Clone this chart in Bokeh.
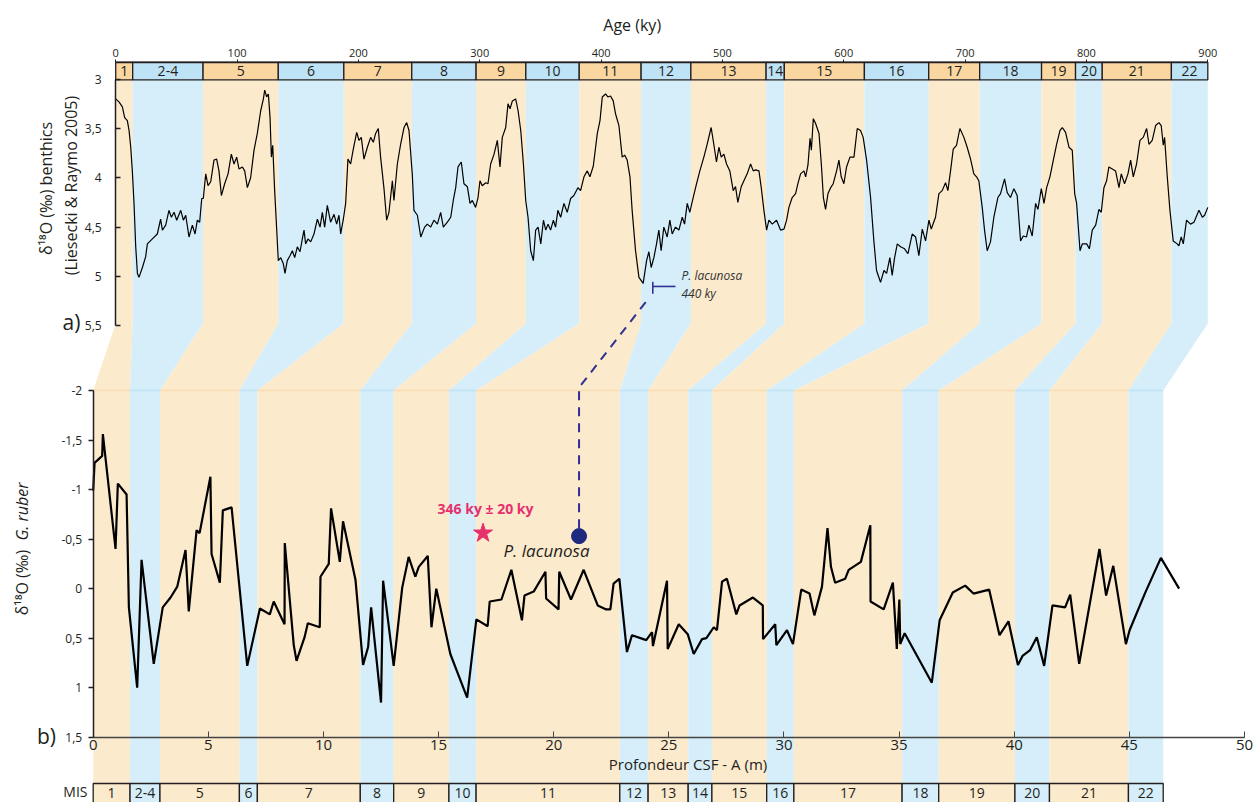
import numpy as np
from bokeh.plotting import figure
from bokeh.models import Range1d, LinearAxis, FixedTicker, CustomJSTickFormatter, Label
from bokeh.core.properties import value
from bokeh.embed import file_html
from bokeh.resources import INLINE

# ---------------- data ----------------
age_ky = [0, 2.7, 5.5, 7.4, 9.6, 11.0, 12.4, 13.7, 15.1, 16.5, 17.9, 19.2, 22.0, 24.7, 26.1, 30.2, 34.3, 37.0,
          38.5, 41.2, 43.9, 45.9, 48.1, 50.3, 53.6, 55.8, 57.7, 60.4, 63.2, 65.4, 67.3, 69.2, 70.9, 72.2, 74.2,
          76.1, 78.3, 81.0, 83.2, 85.1, 87.1, 89.8, 92.6, 95.3, 97.5, 99.7, 101.6, 104.4, 106.3, 108.5, 111.2,
          114.0, 116.7, 119.5, 121.7, 122.8, 124.4, 125.8, 127.2, 128.3, 129.4, 131.0, 132.7, 134.0, 136.0,
          138.1, 139.5, 141.4, 143.6, 145.6, 147.5, 149.7, 151.9, 153.8, 155.2, 156.5, 158.5, 160.7, 163.4,
          166.2, 168.4, 170.3, 172.2, 174.4, 177.1, 179.9, 182.1, 184.0, 185.4, 187.6, 189.5, 191.4, 193.6,
          195.8, 198.6, 200.5, 202.4, 204.6, 207.4, 210.1, 212.3, 214.2, 216.4, 218.3, 221.1, 223.3, 225.2,
          228.0, 229.3, 232.1, 234.8, 237.6, 239.8, 241.7, 244.4, 245.8, 248.6, 251.4, 254.6, 256.8, 259.6,
          262.3, 265.1, 267.8, 270.0, 273.3, 276.1, 278.2, 280.2, 282.1, 284.8, 287.0, 289.8, 292.0, 293.9,
          296.6, 298.6, 300.2, 302.1, 304.9, 306.8, 309.0, 311.8, 314.5, 316.7, 318.6, 321.4, 323.3, 325.0,
          326.9, 329.6, 331.6, 333.8, 336.0, 337.9, 339.8, 342.0, 344.2, 346.1, 348.1, 350.3, 352.5, 354.4,
          356.3, 358.4, 360.7, 362.5, 364.4, 366.7, 369.4, 372.1, 374.9, 377.6, 380.9, 383.1, 385.9, 388.6,
          390.8, 393.6, 396.9, 399.1, 401.0, 403.7, 405.6, 407.8, 410.0, 411.9, 414.7, 417.4, 419.4, 421.5,
          423.8, 425.6, 428.4, 431.2, 434.7, 437.5, 439.4, 441.3, 443.5, 445.7, 447.6, 449.5, 451.7, 454.5,
          456.7, 458.6, 461.3, 464.1, 466.9, 468.8, 471.0, 473.1, 475.9, 478.7, 481.4, 484.7, 487.4, 490.7,
          492.9, 495.1, 497.1, 499.0, 501.2, 503.4, 506.1, 508.9, 510.8, 512.7, 515.5, 517.7, 520.4, 523.2,
          525.4, 527.3, 530.1, 532.0, 534.2, 536.4, 538.3, 541.1, 544.6, 547.9, 550.7, 552.9, 554.8, 557.5,
          560.3, 562.2, 564.4, 567.2, 568.6, 570.5, 572.2, 573.3, 574.9, 576.8, 579.6, 581.5, 583.2, 585.0,
          587.0, 589.2, 591.3, 594.1, 596.0, 597.9, 600.1, 602.3, 605.1, 608.4, 611.1, 613.8, 616.0, 618.8,
          622.1, 624.8, 627.0, 630.3, 633.1, 635.3, 638.0, 639.9, 641.9, 644.1, 646.8, 650.1, 652.9, 656.4,
          659.2, 661.9, 664.7, 667.4, 670.2, 672.1, 675.6, 678.4, 681.1, 683.9, 685.8, 688.0, 690.2, 692.9,
          695.7, 699.0, 701.7, 704.5, 707.2, 709.4, 711.3, 714.1, 716.0, 718.2, 720.9, 723.7, 727.0, 729.2,
          732.5, 734.7, 737.4, 740.2, 742.9, 745.7, 747.9, 750.6, 752.6, 755.3, 758.1, 760.0, 762.8, 765.0,
          767.2, 769.9, 772.7, 775.4, 778.2, 780.1, 782.8, 785.6, 788.3, 790.3, 791.9, 794.7, 796.6, 800.2,
          802.4, 804.8, 807.6, 810.3, 812.2, 814.4, 816.6, 818.5, 821.3, 824.0, 826.8, 828.7, 831.4, 834.2,
          836.4, 838.6, 841.3, 844.1, 846.8, 849.6, 851.5, 854.2, 857.0, 859.7, 861.6, 863.3, 864.4, 866.6,
          868.8, 871.5, 874.8, 876.2, 878.1, 879.8, 882.5, 885.8, 888.6, 892.7, 895.5, 897.4, 900.0]
d18o_benthic = [3.20, 3.23, 3.28, 3.39, 3.42, 3.52, 3.69, 3.93, 4.26, 4.70, 4.97, 5.01, 4.91, 4.80, 4.67, 4.62, 4.57, 4.42,
                4.53, 4.48, 4.33, 4.40, 4.35, 4.43, 4.33, 4.43, 4.38, 4.60, 4.48, 4.57, 4.43, 4.45, 4.21, 4.21, 3.96,
                4.08, 4.04, 3.82, 3.81, 3.93, 4.18, 4.06, 3.96, 3.76, 3.86, 3.79, 3.91, 3.89, 3.93, 4.10, 4.00,
                3.72, 3.55, 3.32, 3.20, 3.11, 3.18, 3.15, 3.39, 3.79, 3.67, 4.13, 4.53, 4.84, 4.81,
                4.87, 4.97, 4.84, 4.79, 4.74, 4.81, 4.70, 4.75, 4.62, 4.53, 4.67, 4.62, 4.65, 4.57,
                4.42, 4.50, 4.35, 4.50, 4.28, 4.45, 4.37, 4.47, 4.38, 4.57, 4.42, 4.26, 3.81, 3.86,
                3.71, 3.54, 3.62, 3.59, 3.81, 3.69, 3.59, 3.64, 3.55, 3.50, 3.79, 4.11, 4.43, 4.35,
                4.03, 4.23, 3.86, 3.66, 3.49, 3.44, 3.52, 3.96, 4.33, 4.38, 4.60, 4.50, 4.47, 4.50,
                4.43, 4.47, 4.35, 4.50, 4.45, 4.40, 4.23, 4.10, 3.89, 3.84, 4.06, 4.09, 4.26, 4.23,
                4.30, 4.20, 4.03, 4.08, 4.05, 4.06, 3.86, 3.76, 3.62, 3.89, 3.59, 3.49, 3.25, 3.30,
                3.22, 3.20, 3.32, 3.52, 3.86, 4.23, 4.40, 4.74, 4.84, 4.53, 4.50, 4.67, 4.43, 4.53,
                4.47, 4.53, 4.43, 4.50, 4.33, 4.40, 4.26, 4.35, 4.21, 4.18, 4.10, 4.13, 3.99, 3.93,
                3.99, 3.88, 3.55, 3.42, 3.18, 3.15, 3.18, 3.17, 3.22, 3.35, 3.47, 3.79, 3.77, 3.82,
                3.99, 4.33, 4.74, 5.01, 5.07, 4.84, 4.75, 4.91, 4.81, 4.67, 4.53, 4.74, 4.50, 4.60,
                4.43, 4.57, 4.50, 4.53, 4.40, 4.47, 4.26, 4.35, 4.20, 4.06, 3.93, 3.79, 3.66, 3.49,
                3.66, 3.84, 3.69, 3.79, 3.76, 3.86, 3.93, 4.13, 4.09, 4.25, 4.09, 4.03, 3.96, 3.86,
                3.93, 3.92, 3.93, 4.10, 4.33, 4.53, 4.43, 4.47, 4.43, 4.53, 4.52, 4.43, 4.30, 4.20,
                4.16, 4.06, 3.96, 3.93, 3.99, 3.87, 3.60, 3.72, 3.40, 3.45, 3.55, 3.86, 4.20, 4.32,
                4.16, 4.10, 4.06, 3.93, 3.82, 3.99, 4.06, 3.89, 3.79, 3.79, 3.50, 3.52, 3.59, 3.82,
                4.20, 4.64, 4.94, 5.06, 4.94, 4.97, 4.81, 4.99, 4.81, 4.67, 4.70, 4.72, 4.77, 4.57,
                4.60, 4.79, 4.52, 4.64, 4.43, 4.52, 4.40, 4.16, 4.13, 4.05, 4.13, 3.93, 3.71, 3.67,
                3.50, 3.59, 3.69, 3.81, 3.96, 3.99, 4.03, 4.30, 4.53, 4.74, 4.65, 4.40, 4.20, 4.16,
                4.01, 4.15, 4.20, 4.11, 4.18, 4.64, 4.59, 4.60, 4.48, 4.59, 4.26, 4.32, 4.11, 4.26,
                4.10, 3.99, 3.82, 3.66, 3.52, 3.49, 3.54, 3.69, 3.72, 4.16, 4.26, 4.74, 4.67, 4.67,
                4.72, 4.53, 4.48, 4.32, 4.35, 4.10, 4.03, 3.89, 3.91, 3.93, 4.10, 3.96, 4.06, 3.96,
                3.82, 3.99, 3.86, 3.62, 3.59, 3.50, 3.66, 3.62, 3.47, 3.44, 3.47, 3.67, 3.59, 3.99,
                4.33, 4.64, 4.67, 4.69, 4.60, 4.67, 4.43, 4.47, 4.45, 4.33, 4.40, 4.38, 4.30]

depth_m = [0, 0.06, 0.39, 0.42, 0.97, 1.07, 1.45, 1.55, 1.91, 2.10, 2.63, 3.02, 3.36, 3.65, 4.01, 4.15, 4.49, 4.62,
           5.09, 5.14, 5.50, 5.63, 6.01, 6.69, 7.24, 7.67, 7.84, 8.31, 8.32, 8.71, 8.83, 9.18, 9.32, 9.84, 9.87,
           10.23, 10.33, 10.71, 10.85, 11.39, 11.72, 11.94, 12.07, 12.50, 12.59, 13.05, 13.42, 13.70, 13.99, 14.14,
           14.53, 14.69, 14.90, 15.51, 16.24, 16.64, 17.13, 17.22, 17.73, 18.16, 18.62, 18.73, 19.13, 19.64, 19.67,
           20.21, 20.24, 20.75, 21.30, 21.91, 22.28, 22.46, 22.60, 22.85, 23.18, 23.40, 24.02, 24.27, 24.31, 24.92,
           24.95, 25.43, 25.82, 26.08, 26.44, 26.63, 26.95, 27.09, 27.31, 27.52, 27.93, 28.07, 28.65, 29.08, 29.09,
           29.62, 29.67, 30.13, 30.39, 30.75, 31.11, 31.32, 31.65, 31.89, 32.04, 32.22, 32.66, 32.81, 33.34, 33.75,
           33.76, 34.33, 34.73, 34.90, 35.01, 35.05, 35.24, 36.42, 36.76, 37.33, 37.87, 38.23, 38.91, 39.36, 39.75,
           40.16, 40.36, 40.69, 40.98, 41.30, 41.66, 42.21, 42.43, 42.82, 43.70, 43.99, 44.30, 44.85, 45.01, 45.69,
           46.37, 47.16]
d18o_ruber = [-0.99, -1.27, -1.34, -1.56, -0.40, -1.06, -0.95, 0.19, 1.00, -0.29, 0.76, 0.19, 0.09, -0.02, -0.39, 0.23,
              -0.59, -0.56, -1.13, -0.35, -0.06, -0.79, -0.82, 0.78, 0.20, 0.26, 0.13, 0.36, -0.46, 0.57, 0.73, 0.49,
              0.35, 0.39, -0.12, -0.25, -0.81, -0.27, -0.68, -0.09, 0.77, 0.59, 0.19, 1.15, -0.08, 0.78, -0.01, -0.32,
              -0.12, -0.22, -0.33, 0.39, 0.00, 0.66, 1.10, 0.31, 0.38, 0.13, 0.11, -0.19, 0.32, 0.07, 0.03, -0.17,
              0.10, 0.21, -0.17, 0.11, -0.19, 0.17, 0.21, 0.21, -0.05, -0.10, 0.64, 0.47, 0.52, 0.44, 0.58, -0.08,
              0.61, 0.36, 0.46, 0.66, 0.51, 0.50, 0.39, 0.42, -0.07, -0.10, 0.26, 0.17, 0.09, 0.17, 0.51, 0.36,
              0.57, 0.42, 0.56, 0.01, 0.05, 0.27, -0.02, -0.61, -0.22, -0.06, -0.10, -0.19, -0.27, -0.64, 0.13,
              0.21, -0.06, 0.61, 0.11, 0.56, 0.45, 0.95, 0.32, 0.04, -0.03, 0.05, 0.01, 0.47, 0.33, 0.77, 0.68,
              0.62, 0.49, 0.78, 0.17, 0.19, 0.06, 0.76, -0.40, 0.07, -0.23, 0.56, 0.42, 0.04, -0.31, 0.00]

mis_labels = ["1", "2-4", "5", "6", "7", "8", "9", "10", "11", "12", "13", "14", "15", "16", "17", "18",
              "19", "20", "21", "22"]
mis_age_bounds = [0, 14, 72, 134, 188, 244, 297, 338, 382, 433, 474, 536, 551, 617, 670, 712, 763, 791, 813,
                  870, 900]
mis_depth_bounds = [0, 1.6, 2.9, 6.35, 7.13, 11.6, 13.05, 15.45, 16.63, 22.87, 24.1, 25.84, 26.87, 29.25,
                    30.43, 35.13, 36.72, 40.03, 41.53, 44.96, 46.47]

lacunosa_age = 440
lacunosa_depth = 21.1
lacunosa_value = -0.53
dated_depth = 16.93
dated_value = -0.56

age_ticks = list(range(0, 1000, 100))
benthic_ticks = [3, 3.5, 4, 4.5, 5, 5.5]
ruber_ticks = [-2, -1.5, -1, -0.5, 0, 0.5, 1, 1.5]
depth_ticks = list(range(0, 55, 5))

# ---------------- geometry (page pixels; the plot frame fills the whole canvas) ----------------
W, H = 1254, 802
DEPTH_PX0, DEPTH_S = 92.7, (1244 - 92.7) / 50.0
AGE_PX0, AGE_S = 115.2, (1207.3 - 115.2) / 900.0
TOP_PY3, TOP_S = 78.7, 98.6
BOT_PYM2, BOT_S = 390.0, 99.06


def depth_of_px(px):
    return (px - DEPTH_PX0) / DEPTH_S


def age_of_px(px):
    return (px - AGE_PX0) / AGE_S


def topv_of_py(py):
    return 3 + (py - TOP_PY3) / TOP_S


def botv_of_py(py):
    return -2 + (py - BOT_PYM2) / BOT_S


def age_to_depth(a):
    return depth_of_px(AGE_PX0 + a * AGE_S)


def topv_to_botv(v):
    return botv_of_py(TOP_PY3 + (v - 3) * TOP_S)


FONT = "Open Sans"
INK = "#231F20"
BEIGE, BLUE = "#FCEACD", "#D5EEF9"
BEIGE_H, BLUE_H = "#FAD6A0", "#BEE3F6"
BEIGE_EDGE, BLUE_EDGE = "#F8DDB2", "#BFE3F4"

p = figure(width=W, height=H, output_backend="svg", toolbar_location=None,
           x_range=Range1d(depth_of_px(0), depth_of_px(W)),
           y_range=Range1d(botv_of_py(H), botv_of_py(0)),
           x_axis_location=None, y_axis_location=None,
           min_border_left=0, min_border_right=0, min_border_top=0, min_border_bottom=0)
p.extra_x_ranges = {"age": Range1d(age_of_px(0), age_of_px(W))}
p.extra_y_ranges = {"top": Range1d(topv_of_py(H), topv_of_py(0))}
p.xgrid.visible = False
p.ygrid.visible = False
p.outline_line_color = None
p.background_fill_color = "white"
p.border_fill_color = "white"

comma = CustomJSTickFormatter(code="return String(tick).replace('.', ',');")

# ---------------- MIS bands (top panel -> connection -> bottom panel) ----------------
head_top = topv_of_py(61.7)
head_bot = 3.006
band_top_end = topv_of_py(323)
bar_top = botv_of_py(783)
xs, ys, cols, hcols, ecols = [], [], [], [], []
for i in range(len(mis_labels)):
    a0, a1 = mis_age_bounds[i], mis_age_bounds[i + 1]
    d0, d1 = mis_depth_bounds[i], mis_depth_bounds[i + 1]
    xs.append([age_to_depth(a0), age_to_depth(a1), age_to_depth(a1), d1, d1, d0, d0, age_to_depth(a0)])
    yh = topv_to_botv(head_bot)
    ye = topv_to_botv(band_top_end)
    ys.append([yh, yh, ye, -2, bar_top, bar_top, -2, ye])
    cols.append(BEIGE if i % 2 == 0 else BLUE)
    hcols.append(BEIGE_H if i % 2 == 0 else BLUE_H)
    ecols.append(BEIGE_EDGE if i % 2 == 0 else BLUE_EDGE)
p.patches(xs, ys, fill_color=cols, line_color=None)
# faint edge where the bands enter panel b
p.segment(x0=mis_depth_bounds[:-1], x1=mis_depth_bounds[1:], y0=[-2] * len(mis_labels),
          y1=[-2] * len(mis_labels), line_color=ecols, line_width=1.5)

# header boxes (top)
p.quad(left=mis_age_bounds[:-1], right=mis_age_bounds[1:], top=head_top, bottom=head_bot,
       fill_color=hcols, line_color=INK, line_width=1.3, x_range_name="age", y_range_name="top")
a_cent = [(mis_age_bounds[i] + mis_age_bounds[i + 1]) / 2 for i in range(len(mis_labels))]
p.text(x=a_cent, y=[(head_top + head_bot) / 2] * len(mis_labels), text=mis_labels,
       text_font=value(FONT), text_font_size="14px", text_color=INK, text_align="center",
       text_baseline="middle", x_range_name="age", y_range_name="top")

# bottom boxes
p.quad(left=mis_depth_bounds[:-1], right=mis_depth_bounds[1:], top=bar_top, bottom=botv_of_py(830),
       fill_color=cols, line_color=INK, line_width=1.3)
d_cent = [(mis_depth_bounds[i] + mis_depth_bounds[i + 1]) / 2 for i in range(len(mis_labels))]
p.text(x=d_cent, y=[botv_of_py(792)] * len(mis_labels), text=mis_labels,
       text_font=value(FONT), text_font_size="14px", text_color=INK, text_align="center",
       text_baseline="middle")

# ---------------- curves ----------------
p.line(age_ky, d18o_benthic, line_color="black", line_width=1.2, x_range_name="age", y_range_name="top")
p.line(depth_m, d18o_ruber, line_color="black", line_width=2.2)

# ---------------- markers & tie line ----------------
tie_x = [lacunosa_depth, lacunosa_depth, age_to_depth(lacunosa_age)]
tie_y = [lacunosa_value - 0.08, -2.03, topv_to_botv(5.21)]
p.line(tie_x, tie_y, line_color="#2E3192", line_width=2, line_dash="9 7")
p.line([442.6, 442.6], [5.055, 5.176], line_color="#2E3192", line_width=1.6,
       x_range_name="age", y_range_name="top")
p.line([442.6, 461.3], [5.102, 5.102], line_color="#2E3192", line_width=1.6,
       x_range_name="age", y_range_name="top")
p.scatter([lacunosa_depth], [lacunosa_value], marker="circle", size=15, fill_color="#1E2A80",
          line_color="#1E2A80")
p.scatter([dated_depth], [dated_value], marker="star", size=20, fill_color="#E5306E", line_color="#E5306E")

# ---------------- axes (all pinned inside the frame) ----------------
age_axis = LinearAxis(x_range_name="age", y_range_name="top", fixed_location=head_top,
                      ticker=FixedTicker(ticks=age_ticks),
                      bounds=(0, 900), major_tick_out=3, major_tick_in=0, minor_tick_out=0, minor_tick_in=0,
                      major_label_standoff=2, axis_line_width=1.3, axis_line_color=INK,
                      major_tick_line_color=INK, major_label_text_font=FONT,
                      major_label_text_font_size="11px", major_label_text_color=INK)
p.add_layout(age_axis, "above")

top_axis = LinearAxis(x_range_name="age", y_range_name="top", fixed_location=0,
                      ticker=FixedTicker(ticks=benthic_ticks), formatter=comma, bounds=(3, 5.5),
                      major_tick_in=5, major_tick_out=0, minor_tick_out=0, minor_tick_in=0,
                      major_label_standoff=14, axis_line_width=1.5, axis_line_color=INK,
                      major_tick_line_width=1.5, major_tick_line_color=INK, major_label_text_font=FONT,
                      major_label_text_font_size="12px", major_label_text_color=INK)
p.add_layout(top_axis, "left")

bot_axis = LinearAxis(fixed_location=0, ticker=FixedTicker(ticks=ruber_ticks), formatter=comma,
                      bounds=(-2, 1.5), major_tick_out=5, major_tick_in=0, minor_tick_out=0, minor_tick_in=0,
                      major_label_standoff=6, axis_line_width=1.5, axis_line_color=INK,
                      major_tick_line_width=1.5, major_tick_line_color=INK, major_label_text_font=FONT,
                      major_label_text_font_size="12px", major_label_text_color=INK)
p.add_layout(bot_axis, "left")

x_axis = LinearAxis(fixed_location=1.5, ticker=FixedTicker(ticks=depth_ticks), bounds=(0, 50),
                    major_tick_in=6, major_tick_out=0, minor_tick_out=0, minor_tick_in=0,
                    major_label_standoff=3, axis_line_width=1.3, axis_line_color="#444444",
                    major_tick_line_color="#444444", major_label_text_font=FONT,
                    major_label_text_font_size="15px", major_label_text_color=INK)
p.add_layout(x_axis, "below")


# ---------------- texts ----------------
def add_label(x, y, text, size, xr="default", yr="default", angle=0, align="center", style="normal",
              color=INK):
    p.add_layout(Label(x=x, y=y, text=text, x_range_name=xr, y_range_name=yr, angle=angle,
                       text_align=align, text_baseline="middle", text_font=FONT, text_font_size=size,
                       text_font_style=style, text_color=color))


add_label(age_of_px(631.7), topv_of_py(24), "Age (ky)", "16px", "age", "top")
add_label(age_of_px(45), topv_of_py(188), "δ¹⁸O (‰) benthics", "16px", "age", "top", angle=np.pi / 2)
add_label(age_of_px(70), topv_of_py(185), "(Liesecki & Raymo 2005)", "16px", "age", "top", angle=np.pi / 2)
add_label(age_of_px(71), topv_of_py(321), "a)", "21px", "age", "top")
add_label(age_of_px(681), topv_of_py(275), "P. lacunosa", "12px", "age", "top", align="left",
          style="italic", color="#333333")
add_label(age_of_px(681), topv_of_py(293), "440 ky", "12px", "age", "top", align="left",
          style="italic", color="#333333")

add_label(depth_of_px(21), botv_of_py(582), "δ¹⁸O (‰)", "16px", angle=np.pi / 2)
add_label(depth_of_px(21), botv_of_py(511), "G. ruber", "16px", angle=np.pi / 2, style="italic")
add_label(depth_of_px(46), botv_of_py(735), "b)", "21px")
add_label(depth_of_px(687.5), botv_of_py(763), "Profondeur CSF - A (m)", "15px")
add_label(depth_of_px(87), botv_of_py(791), "MIS", "14px", align="right")
add_label(depth_of_px(485), botv_of_py(508), "346 ky ± 20 ky", "14px", style="bold", color="#E5306E")
add_label(depth_of_px(546), botv_of_py(550), "P. lacunosa", "17px", style="italic")

open("out.html", "w").write(file_html(p, INLINE))
